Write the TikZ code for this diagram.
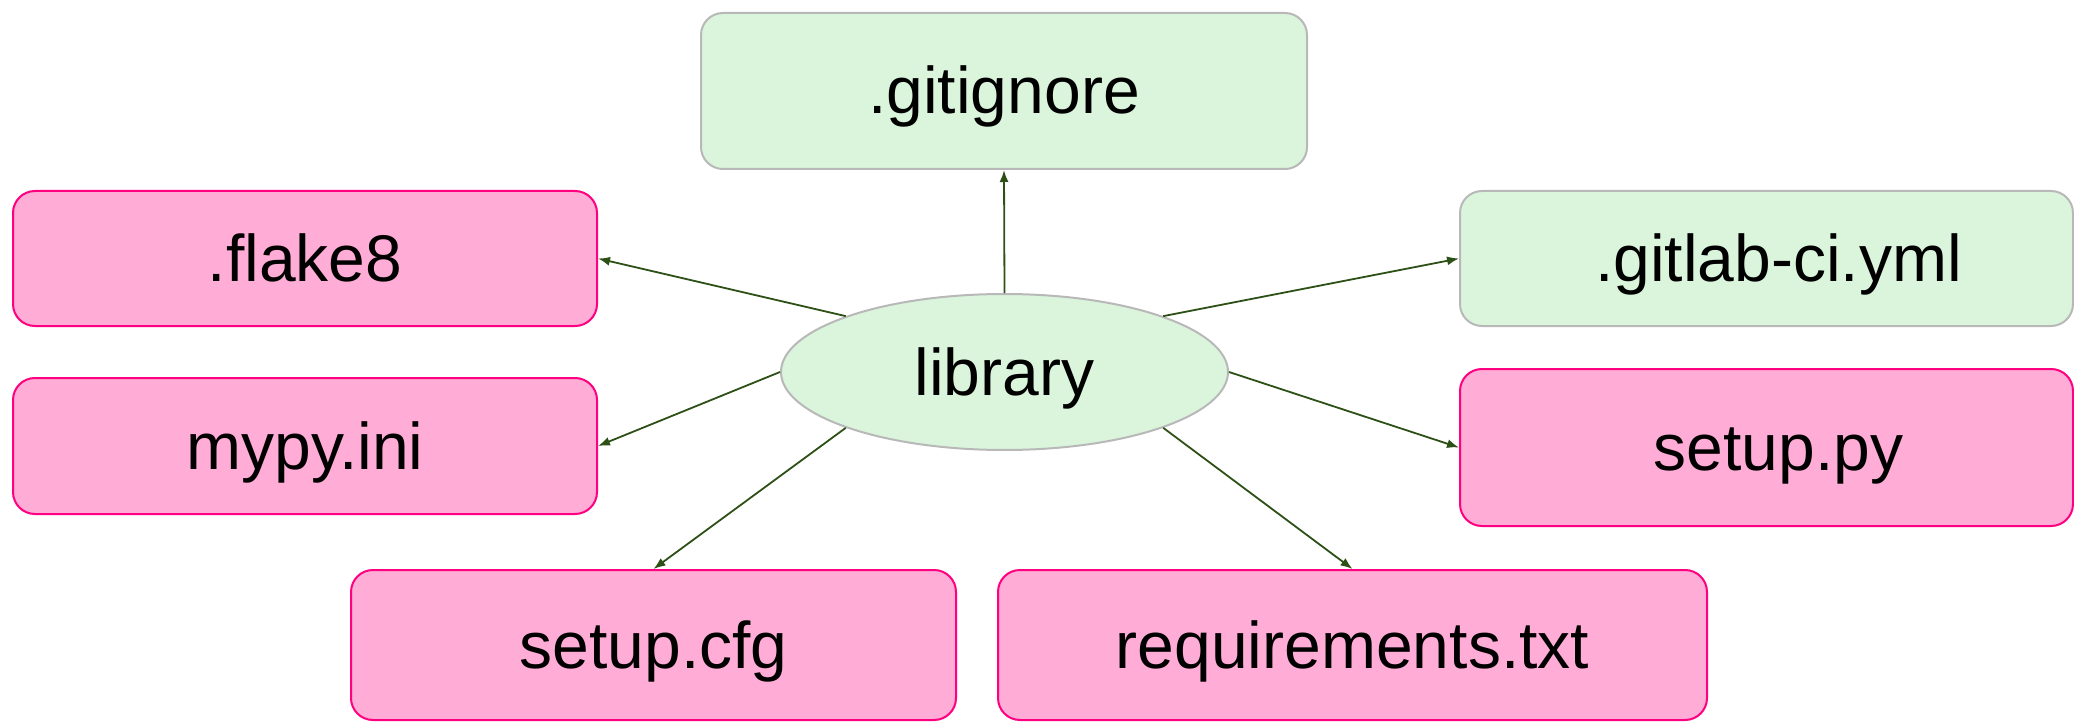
\documentclass[tikz,border=0pt]{standalone}
\usepackage{fontspec}
\setmainfont{Liberation Sans}
\usetikzlibrary{shapes.geometric}
\usetikzlibrary{arrows.meta}

\definecolor{pinkfill}{HTML}{FFACD6}
\definecolor{pinkline}{HTML}{FF0080}
\definecolor{greenfill}{HTML}{DAF5DC}
\definecolor{greyline}{HTML}{B8B8B8}
\definecolor{linkgreen}{HTML}{2D5016}

\begin{document}
\begin{tikzpicture}[x=0.5pt,y=-0.5pt,
    label/.style={inner sep=0pt, text height=23pt, text depth=0pt,
        font=\fontsize{33}{40}\selectfont},
    file/.style={label, rectangle, rounded corners=11pt, line width=1pt},
    pinkfile/.style={file, draw=pinkline, fill=pinkfill},
    greenfile/.style={file, draw=greyline, fill=greenfill},
    link/.style={-{Latex[length=6pt,width=4.5pt]}, draw=linkgreen, line width=0.9pt}]

    \useasboundingbox (0,0) rectangle (2074,722);

    \node[label, ellipse, draw=greyline, fill=greenfill, line width=1pt,
        minimum width=223.5pt, minimum height=78pt] (lib) at (1004.5,372) {library};

    \node[greenfile, minimum width=303pt, minimum height=78pt] (gitignore) at (1004,91) {.gitignore};
    \node[pinkfile, minimum width=292pt, minimum height=67.5pt] (flake) at (305,258.5) {.flake8};
    \node[greenfile, minimum width=306.5pt, minimum height=67.5pt] (gitlab) at (1766.5,258.5) {\hspace{12pt}.gitlab-ci.yml};
    \node[pinkfile, minimum width=292pt, minimum height=68pt] (mypy) at (305,446) {mypy.ini};
    \node[pinkfile, minimum width=306.5pt, minimum height=78.5pt] (setuppy) at (1766.5,447.5) {\hspace{12pt}setup.py};
    \node[pinkfile, minimum width=302.5pt, minimum height=75pt] (setupcfg) at (653.5,645) {setup.cfg};
    \node[pinkfile, minimum width=354.5pt, minimum height=75pt] (reqs) at (1352.5,645) {requirements.txt};

    \foreach \a/\b in {north/gitignore.south, north west/flake.east, north east/gitlab.west,
        west/mypy.east, east/setuppy.west, south west/setupcfg.north, south east/reqs.north}
        \draw[link] (lib.\a) -- (\b);

\end{tikzpicture}
\end{document}
